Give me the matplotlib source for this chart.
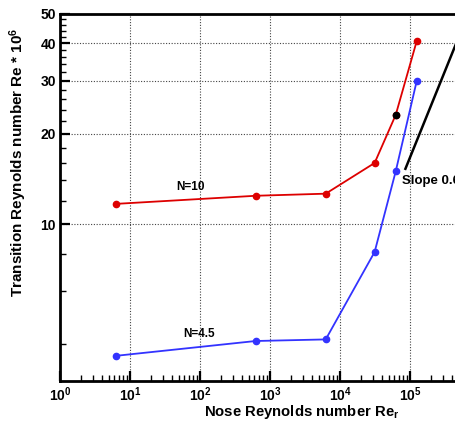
import matplotlib.pyplot as plt
from matplotlib.ticker import FixedLocator, NullFormatter

plt.rcParams["font.family"] = ["Liberation Sans", "DejaVu Sans"]
plt.rcParams["font.weight"] = "bold"
plt.rcParams["mathtext.fontset"] = "custom"
plt.rcParams["mathtext.rm"] = "Liberation Sans:bold"
plt.rcParams["mathtext.bf"] = "Liberation Sans:bold"
plt.rcParams["mathtext.it"] = "Liberation Sans:bold"
plt.rcParams["mathtext.default"] = "bf"

# nose Reynolds number
re_nose = [6.25, 625, 6250, 31250, 62500, 125000]
# transition Reynolds number * 1e6
n10 = [11.7, 12.45, 12.65, 16.0, 23.1, 40.7]
n45 = [3.66, 4.10, 4.15, 8.1, 15.0, 30.0]
# highlighted point on the N=10 curve
black_x = [62500]
black_y = [23.1]
# slope 0.6 reference line
slope_x = [8.6e4, 6.0e5]
slope_y = [15.3, 46.7]

fig = plt.figure(figsize=(4.56, 4.22), dpi=100)
ax = fig.add_axes([0.1316, 0.0972, 0.921, 0.8697])

ax.plot(re_nose, n10, color="#dd0000", lw=1.3, marker="o", ms=4.5)
ax.plot(black_x, black_y, "o", color="black", ms=4.5)
ax.plot(re_nose, n45, color="#3333ff", lw=1.3, marker="o", ms=4.5)
ax.plot(slope_x, slope_y, color="black", lw=1.8)

ax.text(46, 13.3, "N=10", fontsize=8.5, fontweight="bold", va="center")
ax.text(57, 4.33, "N=4.5", fontsize=8.5, fontweight="bold", va="center")
ax.text(7.7e4, 13.9, "Slope 0.6", fontsize=9.5, fontweight="bold", va="center")

ax.set_xscale("log")
ax.set_yscale("log")
ax.set_xlim(1, 1e6)
ax.set_ylim(3.02, 50)

xmaj = [1, 10, 100, 1e3, 1e4, 1e5]
xlabels = [r"$10^{%d}$" % i for i in range(6)]
ax.xaxis.set_major_locator(FixedLocator(xmaj))
ax.set_xticklabels(xlabels)
ax.xaxis.set_minor_locator(FixedLocator([m * 10 ** d for d in range(6) for m in range(2, 10)]))
ax.xaxis.set_minor_formatter(NullFormatter())

ymaj = [10, 20, 30, 40, 50]
ax.yaxis.set_major_locator(FixedLocator(ymaj))
ax.set_yticklabels([str(v) for v in ymaj])
ymin = [4, 6, 8, 12, 14, 16, 18, 22, 24, 26, 28, 32, 34, 36, 38, 42, 44, 46, 48]
ax.yaxis.set_minor_locator(FixedLocator(ymin))
ax.yaxis.set_minor_formatter(NullFormatter())

ax.tick_params(which="major", direction="in", length=7, width=1.6, labelsize=10, pad=3)
ax.tick_params(which="minor", direction="in", length=4, width=1.0)
for lab in ax.get_xticklabels() + ax.get_yticklabels():
    lab.set_fontweight("bold")

ax.grid(True, which="major", linestyle=(0, (1, 1.5)), color="#444444", lw=0.8)
for s in ax.spines.values():
    s.set_linewidth(2)

ax.set_xlabel("Nose Reynolds number Re$_r$", fontsize=10.7, fontweight="bold")
ax.xaxis.set_label_coords(0.575, -0.06)
ax.set_ylabel("Transition Reynolds number Re * 10$^6$", fontsize=11, fontweight="bold")
ax.yaxis.set_label_coords(-0.075, 0.597)

fig.savefig("out.png", dpi=100)
